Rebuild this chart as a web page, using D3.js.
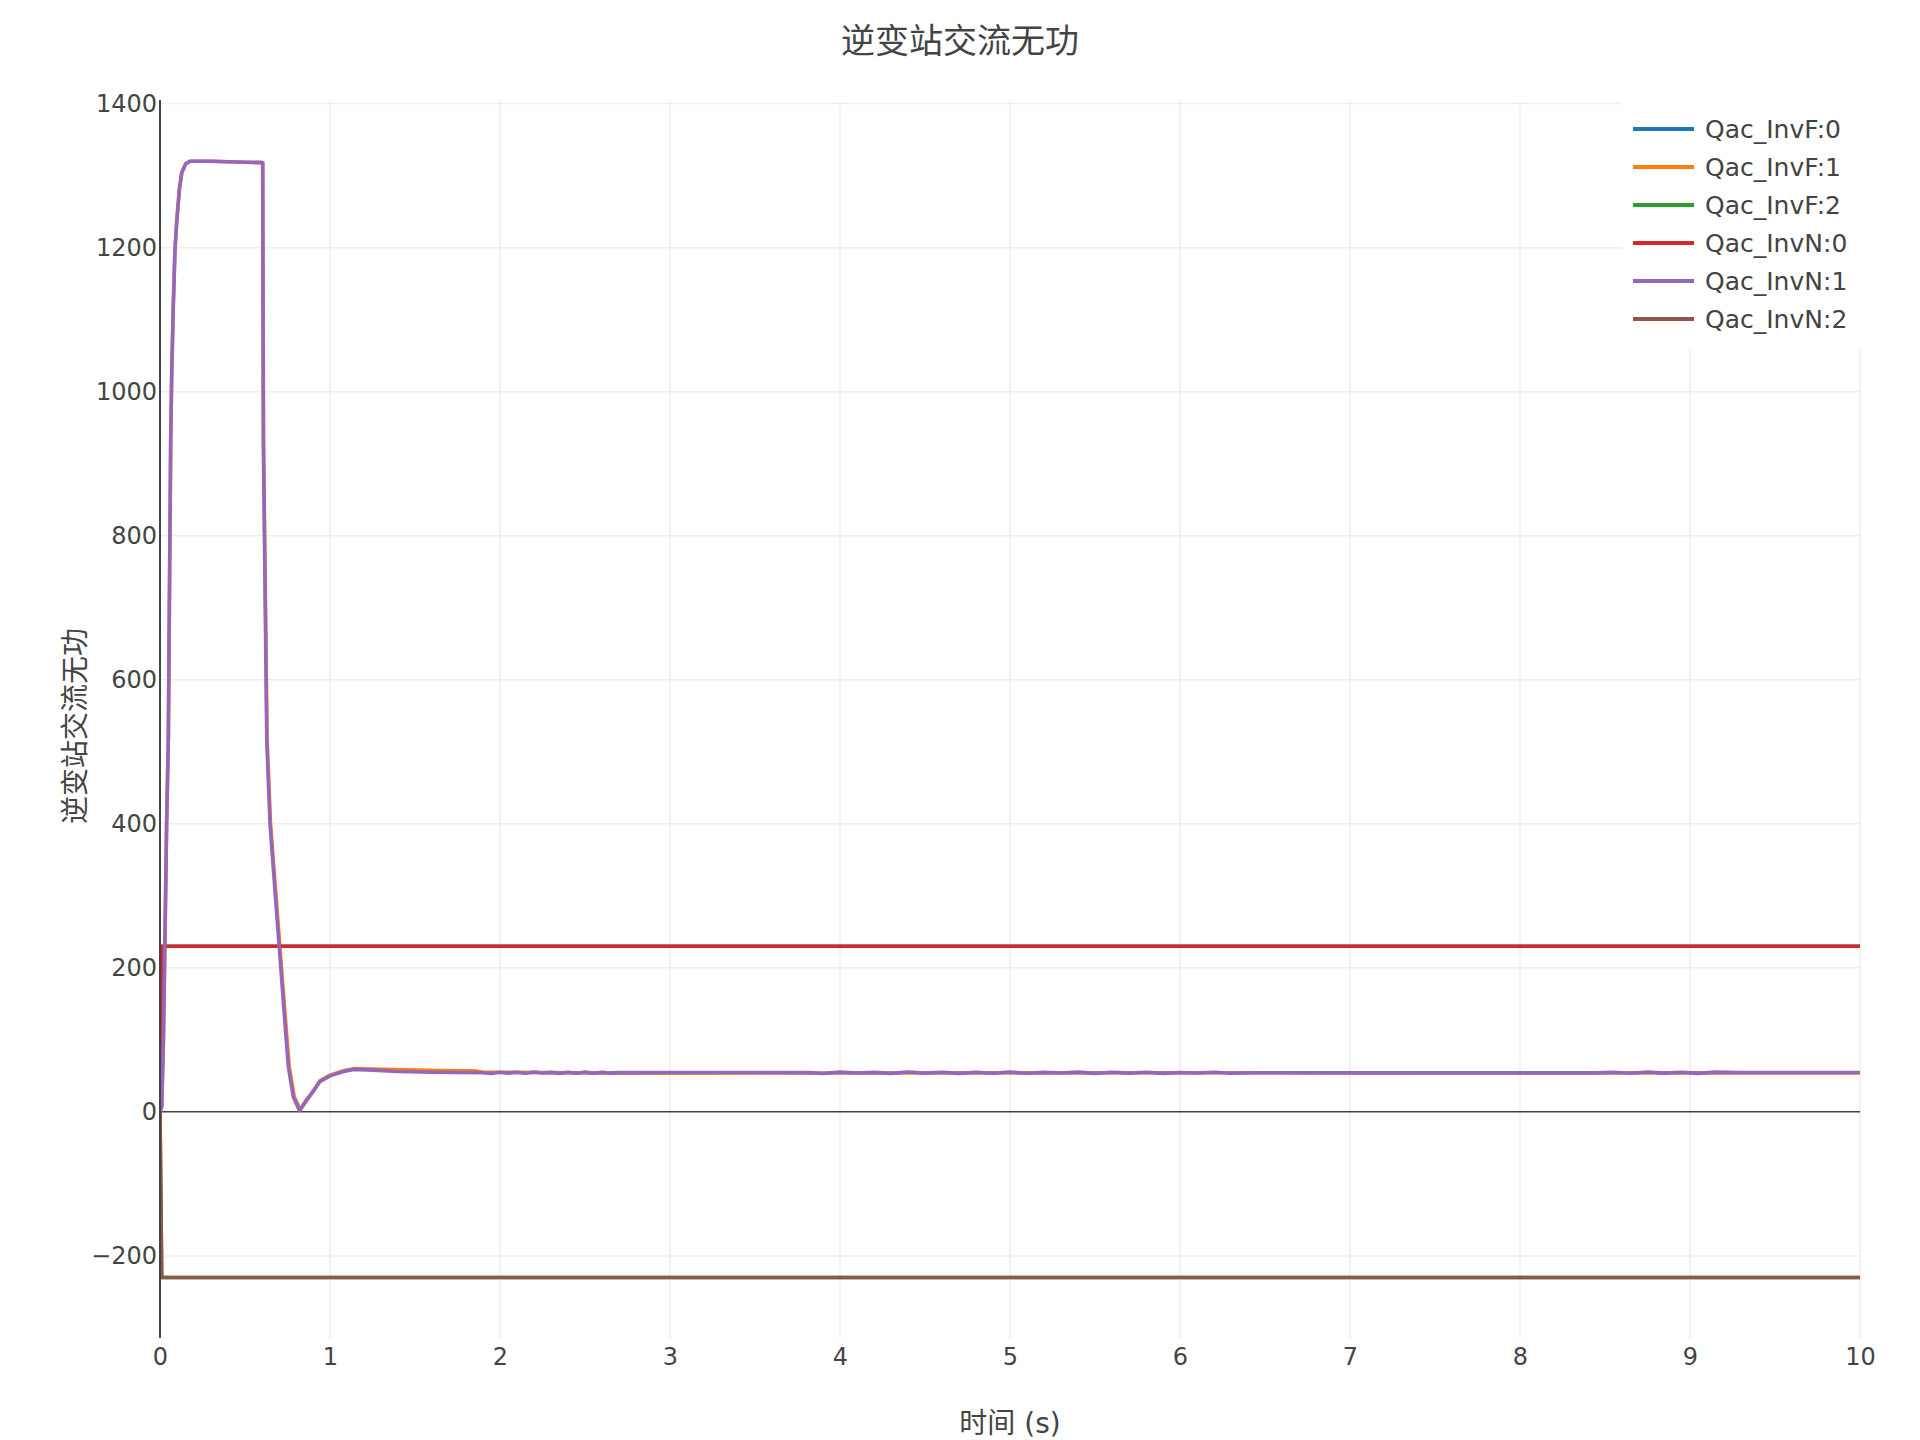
<!DOCTYPE html>
<html>
<head>
<meta charset="utf-8">
<script src="https://cdn.jsdelivr.net/npm/d3@7"></script>
<style>
  body { margin: 0; background: #fff; }
  text { font-family: "DejaVu Sans", "Noto Sans CJK SC", sans-serif; fill: #444; }
  .cjk { font-family: "Noto Sans CJK SC", "DejaVu Sans", sans-serif; }
</style>
</head>
<body>
<svg width="1920" height="1440"></svg>
<script>
// noms des courbes et couleurs
let seriesNames = ["Qac_InvF:0", "Qac_InvF:1", "Qac_InvF:2", "Qac_InvN:0", "Qac_InvN:1", "Qac_InvN:2"];
let seriesColors = ["#1f77b4", "#ff7f0e", "#2ca02c", "#d62728", "#9467bd", "#8c564b"];

let xTicks = [0, 1, 2, 3, 4, 5, 6, 7, 8, 9, 10];
let yTicks = [-200, 0, 200, 400, 600, 800, 1000, 1200, 1400];

// InvF:0 et InvN:0 (palier +230)
let tStepUp = [0, 0.01, 10];
let vStepUp = [0, 230, 230];
// InvF:2 et InvN:2 (palier -230)
let tStepDown = [0, 0.01, 10];
let vStepDown = [0, -230, -230];

// InvF:1
let tInvF1 = [0, 0.01, 0.02, 0.029, 0.039, 0.049, 0.056, 0.063, 0.069, 0.078, 0.088, 0.098, 0.114, 0.128, 0.15, 0.176, 0.3, 0.45, 0.604,
  0.609, 0.63, 0.65, 0.68, 0.71, 0.74, 0.76, 0.79, 0.825, 0.87, 0.94, 1.0, 1.08, 1.14, 1.25, 1.45, 1.65, 1.85, 1.9, 2.7, 3.8, 6.4, 8.5, 10];
let vInvF1 = [0, 7, 100, 239, 401, 517, 730, 933, 1026, 1118, 1197, 1235, 1281, 1304, 1316, 1320, 1320, 1319, 1318,
  933, 517, 401, 308, 215, 123, 63, 21, 3, 18, 43, 51, 57, 60, 59.5, 58.5, 57.5, 57, 55, 53.8, 53.9, 54.3, 54.1, 54.2];

// InvN:1
let tInvN1 = [0, 0.01, 0.02, 0.029, 0.039, 0.049, 0.056, 0.063, 0.069, 0.078, 0.088, 0.098, 0.114, 0.128, 0.15, 0.176, 0.3, 0.45, 0.604,
  0.608, 0.628, 0.647, 0.676, 0.706, 0.735, 0.755, 0.784, 0.82, 0.863, 0.9, 0.94, 1.0, 1.08, 1.14, 1.25, 1.4, 1.6, 1.75, 1.9,
  1.95, 2.0, 2.05, 2.1, 2.15, 2.2, 2.25, 2.3, 2.35, 2.4, 2.45, 2.5, 2.55, 2.6, 2.65, 2.69,
  3.0, 3.5, 3.82,
  3.9, 4.0, 4.1, 4.2, 4.3, 4.4, 4.5, 4.6, 4.7, 4.8, 4.9, 5.0, 5.1, 5.2, 5.3, 5.4, 5.5, 5.6, 5.7, 5.8, 5.9, 6.0, 6.1, 6.2, 6.3, 6.44,
  7.0, 8.0, 8.45,
  8.55, 8.65, 8.75, 8.85, 8.95, 9.05, 9.15, 9.29,
  10];
let vInvN1 = [0, 7, 100, 239, 401, 517, 730, 933, 1026, 1118, 1197, 1235, 1281, 1304, 1316, 1320, 1320, 1319, 1318,
  933, 517, 401, 308, 215, 123, 63, 21, 2, 17, 28, 42, 50, 56, 59, 58, 56, 55, 54.6, 54.3,
  53.2, 55.1, 53.8, 54.9, 53.5, 55.3, 53.9, 54.8, 53.4, 55.0, 53.7, 55.2, 53.6, 54.9, 53.8, 54.5,
  54.6, 54.6, 54.5,
  53.3, 55.2, 53.9, 54.8, 53.4, 55.4, 53.8, 54.9, 53.5, 55.1, 53.7, 55.3, 53.6, 54.8, 53.9, 55.2, 53.4, 54.9, 53.8, 55.0, 53.5, 54.7, 53.9, 55.1, 53.6, 54.3,
  54.2, 54.2, 54.2,
  55.1, 53.6, 55.3, 53.8, 54.9, 53.5, 55.2, 54.6,
  54.6];

let allT = [tStepUp, tInvF1, tStepDown, tStepUp, tInvN1, tStepDown];
let allV = [vStepUp, vInvF1, vStepDown, vStepUp, vInvN1, vStepDown];

let svg = d3.select("svg");
svg.append("rect").attr("width", 1920).attr("height", 1440).attr("fill", "#fff");

let x = d3.scaleLinear().domain([0, 10]).range([160, 1860]);
let y = d3.scaleLinear().domain([-314, 1405]).range([1338, 100]);

// grille
svg.append("g")
  .selectAll("line")
  .data(xTicks.filter(d => d != 0))
  .join("line")
  .attr("x1", d => x(d)).attr("x2", d => x(d))
  .attr("y1", y.range()[1]).attr("y2", y.range()[0])
  .attr("stroke", "#eee").attr("stroke-width", 1.5);

svg.append("g")
  .selectAll("line")
  .data(yTicks.filter(d => d != 0))
  .join("line")
  .attr("x1", x(0)).attr("x2", x(10))
  .attr("y1", d => y(d)).attr("y2", d => y(d))
  .attr("stroke", "#eee").attr("stroke-width", 1.5);

// ligne du zero
svg.append("line")
  .attr("x1", x(0)).attr("x2", x(10))
  .attr("y1", y(0)).attr("y2", y(0))
  .attr("stroke", "#444").attr("stroke-width", 1.5);

// courbes
svg.append("clipPath").attr("id", "zone")
  .append("rect").attr("x", x(0)).attr("y", 100).attr("width", x(10) - x(0)).attr("height", 1238);

let line = d3.line().x(d => x(d[0])).y(d => y(d[1]));

svg.append("g")
  .attr("clip-path", "url(#zone)")
  .selectAll("path")
  .data(seriesNames.map((n, i) => allT[i].map((t, k) => [t, allV[i][k]])))
  .join("path")
  .attr("d", line)
  .attr("fill", "none")
  .attr("stroke", (d, i) => seriesColors[i])
  .attr("stroke-width", 3.6)
  .attr("stroke-linejoin", "round");

// axe vertical
svg.append("line")
  .attr("x1", x(0)).attr("x2", x(0))
  .attr("y1", 100).attr("y2", 1338)
  .attr("stroke", "#444").attr("stroke-width", 2);

// etiquettes des axes
let xAxis = svg.append("g")
  .attr("transform", "translate(0,1338)")
  .call(d3.axisBottom(x).tickValues(xTicks).tickSize(0).tickPadding(10).tickFormat(d3.format("d")));
xAxis.select(".domain").remove();
xAxis.selectAll("text").style("font-size", "24px").attr("fill", "#444");

let yAxis = svg.append("g")
  .attr("transform", "translate(160,0)")
  .call(d3.axisLeft(y).tickValues(yTicks).tickSize(0).tickPadding(3)
    .tickFormat(d => d < 0 ? "\u2212" + Math.abs(d) : d));
yAxis.select(".domain").remove();
yAxis.selectAll("text").style("font-size", "24px").attr("fill", "#444");

// titres
svg.append("text")
  .attr("class", "cjk")
  .attr("x", 960).attr("y", 38)
  .attr("text-anchor", "middle").attr("dominant-baseline", "central")
  .style("font-size", "34px")
  .text("逆变站交流无功");

svg.append("text")
  .attr("x", 1010).attr("y", 1423)
  .attr("text-anchor", "middle").attr("dominant-baseline", "central")
  .style("font-size", "28px")
  .text("时间 (s)");

svg.append("text")
  .attr("class", "cjk")
  .attr("transform", "translate(73,726) rotate(-90)")
  .attr("text-anchor", "middle").attr("dominant-baseline", "central")
  .style("font-size", "28px")
  .text("逆变站交流无功");

// legende
let legende = svg.append("g");
legende.append("rect")
  .attr("x", 1622).attr("y", 90).attr("width", 260).attr("height", 259)
  .attr("fill", "#fff");

let items = legende.selectAll("g.item")
  .data(seriesNames)
  .join("g")
  .attr("class", "item")
  .attr("transform", (d, i) => "translate(0," + (129 + 38 * i) + ")");

items.append("line")
  .attr("x1", 1633).attr("x2", 1694)
  .attr("stroke", (d, i) => seriesColors[i])
  .attr("stroke-width", 4);

items.append("text")
  .attr("x", 1705)
  .attr("dominant-baseline", "central")
  .style("font-size", "25px")
  .text(d => d);
</script>
</body>
</html>
